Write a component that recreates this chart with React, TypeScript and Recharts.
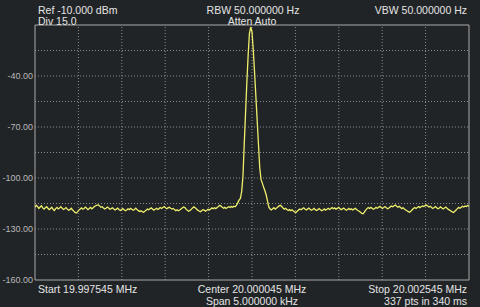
import { LineChart, Line, XAxis, YAxis, ReferenceLine } from "recharts";

const START_MHZ = 19.997545;
const SPAN_HZ = 5000;

const Y_TICKS = [-40, -70, -100, -130, -160];
const Y_GRID = [-25, -40, -55, -70, -85, -100, -115, -130, -145];
const X_GRID = [500, 1000, 1500, 2000, 2500, 3000, 3500, 4000, 4500];

// trace, dBm left to right (337 pts)
const noiseLeft = [
  -117.2, -116.0, -116.8, -117.9, -117.1, -116.4, -117.6, -118.3, -117.5, -116.9, -117.8, -118.6,
  -117.9, -117.2, -118.4, -119.1, -118.0, -117.3, -118.2, -117.6, -116.9, -117.7, -118.5, -118.1,
  -117.4, -118.3, -119.0, -118.6, -117.8, -118.7, -119.5, -120.2, -120.6, -119.8, -118.9, -118.2,
  -117.6, -118.4, -117.9, -117.1, -117.8, -118.6, -118.0, -117.3, -118.1, -117.5, -116.8, -116.3,
  -116.0, -115.8, -116.4, -117.2, -116.9, -117.6, -118.2, -117.8, -117.1, -117.7, -118.4, -118.0,
  -117.5, -118.2, -118.8, -118.3, -117.7, -118.5, -119.1, -118.6, -118.0, -118.7, -119.3, -118.8,
  -118.1, -118.6, -117.9, -118.4, -119.0, -118.5, -117.8, -118.6, -119.2, -119.7, -119.3, -119.8,
  -120.2, -119.6, -118.9, -118.3, -118.7, -118.1, -117.6, -118.2, -118.9, -118.4, -117.8, -118.5,
  -118.0, -117.4, -117.9, -117.3, -116.8, -117.5, -118.1, -117.6, -117.2, -117.8, -118.3, -117.9,
  -118.6, -119.2, -118.7, -119.3, -118.8, -118.2, -117.6, -117.0, -117.4, -118.3, -119.0, -119.6,
  -119.1, -118.4, -117.6, -117.0, -117.5, -118.2, -118.9, -119.4, -119.8, -119.2, -118.6, -118.9,
  -119.5, -119.0, -118.4, -118.8, -118.2, -117.6, -118.1, -117.5, -118.0, -117.4, -116.8, -116.1,
  -116.5, -117.2, -117.8, -117.3, -117.9, -117.4, -116.9, -117.3, -116.8, -117.2, -116.6, -116.9,
];

const carrier = [
  -116.0, -114.5, -113.0, -112.0, -108.0, -99.0, -80.0, -62.0, -44.0, -28.0, -15.0, -11.2,
  -14.0, -25.0, -38.0, -52.0, -66.0, -80.0, -94.0, -101.0, -103.0, -105.5, -107.5, -110.0,
  -113.5, -117.0,
];

const noiseRight = [
  -118.2, -118.8, -118.1, -117.5, -118.3, -117.7, -117.0, -116.4, -116.0, -116.8, -117.6, -118.3,
  -117.8, -118.5, -119.1, -118.6, -119.2, -118.7, -119.4, -120.0, -120.3, -119.6, -118.8, -118.2,
  -118.7, -118.1, -117.5, -118.2, -118.8, -118.3, -117.7, -118.4, -119.0, -118.5, -117.9, -118.6,
  -119.1, -118.6, -118.0, -118.7, -119.2, -118.8, -118.2, -118.9, -118.4, -117.8, -118.5, -118.0,
  -117.4, -118.1, -117.6, -118.3, -117.9, -117.3, -118.0, -118.6, -118.2, -117.7, -118.4, -119.0,
  -118.5, -117.9, -118.6, -118.1, -118.8, -118.3, -117.8, -118.5, -119.1, -119.6, -120.2, -120.8,
  -121.0, -120.1, -118.9, -118.0, -117.4, -117.9, -117.3, -117.8, -118.4, -117.9, -117.3, -117.8,
  -117.2, -116.7, -117.3, -117.9, -117.4, -116.8, -117.5, -118.1, -117.6, -117.0, -116.5, -116.9,
  -116.3, -115.9, -116.6, -117.2, -116.7, -117.4, -118.0, -117.5, -118.2, -118.8, -119.3, -119.8,
  -120.1, -119.5, -118.7, -118.0, -117.4, -117.9, -117.3, -116.8, -117.4, -116.9, -116.4, -116.8,
  -116.2, -115.9, -116.5, -117.1, -116.6, -117.3, -117.9, -117.4, -116.8, -117.5, -118.1, -117.6,
  -117.0, -117.6, -118.2, -117.7, -117.1, -117.8, -118.5, -118.9, -119.4, -119.9, -120.3, -119.6,
  -118.8, -118.0, -117.3, -117.8, -117.2, -116.6, -117.1, -116.5, -116.8, -116.2, -116.6,
];

const trace = [...noiseLeft, ...carrier, ...noiseRight];
const data = trace.map((dbm, i) => ({
  hz: (i * SPAN_HZ) / (trace.length - 1),
  mhz: START_MHZ + (i * SPAN_HZ) / (trace.length - 1) / 1e6,
  dbm,
}));

const BG = "#212427";
const FONT = "'Liberation Sans', Arial, sans-serif";
const TEXT = "#e4e4e4";
const GRID = "#8c8c8c";
const BORDER = "#a8a8a8";
const TRACE = "#eeee6a";

const labels: { t: string; x: number; y: number; a: "start" | "middle" | "end" }[] = [
  { t: "Ref -10.000 dBm", x: 38, y: 13.5, a: "start" },
  { t: "Div 15.0", x: 38, y: 25.3, a: "start" },
  { t: "RBW 50.000000 Hz", x: 253, y: 13.5, a: "middle" },
  { t: "Atten Auto", x: 252, y: 25.3, a: "middle" },
  { t: "VBW 50.000000 Hz", x: 467, y: 13.5, a: "end" },
  { t: "Start 19.997545 MHz", x: 38, y: 292.5, a: "start" },
  { t: "Center 20.000045 MHz", x: 252, y: 292.5, a: "middle" },
  { t: "Span 5.000000 kHz", x: 252, y: 305, a: "middle" },
  { t: "Stop 20.002545 MHz", x: 467, y: 292.5, a: "end" },
  { t: "337 pts in 340 ms", x: 467, y: 305, a: "end" },
];

export default function App() {
  return (
    <div style={{ position: "relative", width: 480, height: 307, background: BG }}>
      <style>{`body{margin:0;background:${BG}}`}</style>
      <LineChart
        width={480}
        height={307}
        data={data}
        margin={{ top: 25, right: 11, bottom: 27, left: 0 }}
      >
        <XAxis type="number" dataKey="hz" domain={[0, SPAN_HZ]} hide allowDataOverflow />
        <YAxis
          type="number"
          domain={[-160, -10]}
          ticks={Y_TICKS}
          width={35}
          axisLine={false}
          tickLine={false}
          tickSize={0}
          tickMargin={2}
          tickFormatter={(v: number) => v.toFixed(2)}
          tick={{ fill: "#b8b8b8", fontSize: 9, fontFamily: FONT }}
          allowDataOverflow
        />
        {Y_GRID.map((y) => (
          <ReferenceLine key={"y" + y} y={y} stroke={GRID} strokeDasharray="1 2" />
        ))}
        {X_GRID.map((x) => (
          <ReferenceLine key={"x" + x} x={x} stroke={GRID} strokeDasharray="1 2" />
        ))}
        <ReferenceLine y={-10} stroke={BORDER} />
        <ReferenceLine y={-160} stroke={BORDER} />
        <ReferenceLine x={0} stroke={BORDER} />
        <ReferenceLine x={SPAN_HZ} stroke={BORDER} />
        <Line
          type="linear"
          dataKey="dbm"
          stroke={TRACE}
          strokeWidth={1.3}
          dot={false}
          isAnimationActive={false}
        />
      </LineChart>
      <svg
        width={480}
        height={307}
        style={{ position: "absolute", left: 0, top: 0, pointerEvents: "none" }}
      >
        {labels.map((l) => (
          <text
            key={l.t}
            x={l.x}
            y={l.y}
            textAnchor={l.a}
            fill={TEXT}
            fontSize={10.5}
            fontFamily={FONT}
          >
            {l.t}
          </text>
        ))}
      </svg>
    </div>
  );
}
